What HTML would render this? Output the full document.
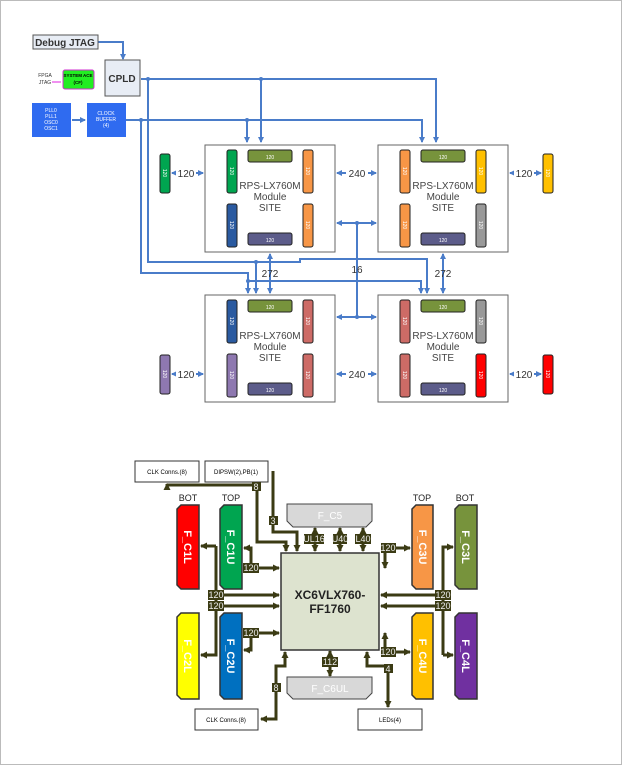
<!DOCTYPE html>
<html><head><meta charset="utf-8"><style>
html,body{margin:0;padding:0;background:#fff}
svg{display:block;font-family:"Liberation Sans",sans-serif}
</style></head><body>
<svg width="622" height="765" viewBox="0 0 622 765">
<defs>
<marker id="ab" markerWidth="6" markerHeight="6" refX="5" refY="3" orient="auto" markerUnits="userSpaceOnUse"><path d="M0,0 L6,3 L0,6 z" fill="#4a7cc9"/></marker>
<marker id="ab2" markerWidth="6" markerHeight="6" refX="1" refY="3" orient="auto" markerUnits="userSpaceOnUse"><path d="M6,0 L0,3 L6,6 z" fill="#4a7cc9"/></marker>
<marker id="ad" markerWidth="7" markerHeight="7" refX="6" refY="3.5" orient="auto" markerUnits="userSpaceOnUse"><path d="M0,0 L7,3.5 L0,7 z" fill="#3b3b14"/></marker>
<marker id="ad2" markerWidth="7" markerHeight="7" refX="1" refY="3.5" orient="auto" markerUnits="userSpaceOnUse"><path d="M7,0 L0,3.5 L7,7 z" fill="#3b3b14"/></marker>
</defs>
<rect x="0.5" y="0.5" width="621" height="764" fill="#fff" stroke="#bbb"/>

<g stroke="#4a7cc9" stroke-width="2" fill="none">
<path d="M98,42 H123 V59" marker-end="url(#ab)"/>
<path d="M141,79 H436 V142" marker-end="url(#ab)"/>
<path d="M261,79 V142" marker-end="url(#ab)"/>
<path d="M126,120 H422 V142" marker-end="url(#ab)"/>
<path d="M247,120 V142" marker-end="url(#ab)"/>
<path d="M72,120 H85" marker-end="url(#ab)"/>
<path d="M148,79 V262 H300 V259 H427 V293" marker-end="url(#ab)"/>
<path d="M256,262 V293" marker-end="url(#ab)"/>
<path d="M141,120 V273 H248 V293" marker-end="url(#ab)"/>
<path d="M248,281 H421 V293" marker-end="url(#ab)"/>
<path d="M270,254 V293" marker-start="url(#ab2)" marker-end="url(#ab)"/>
<path d="M443,254 V293" marker-start="url(#ab2)" marker-end="url(#ab)"/>
<path d="M357,223 V317"/>
<path d="M337,223 H376" marker-start="url(#ab2)" marker-end="url(#ab)"/>
<path d="M337,317 H376" marker-start="url(#ab2)" marker-end="url(#ab)"/>
<path d="M337,173 H376" marker-start="url(#ab2)" marker-end="url(#ab)"/>
<path d="M337,374 H376" marker-start="url(#ab2)" marker-end="url(#ab)"/>
<path d="M172,173 H203" marker-start="url(#ab2)" marker-end="url(#ab)"/>
<path d="M172,374 H203" marker-start="url(#ab2)" marker-end="url(#ab)"/>
<path d="M510,173 H541" marker-start="url(#ab2)" marker-end="url(#ab)"/>
<path d="M510,374 H541" marker-start="url(#ab2)" marker-end="url(#ab)"/>
</g>
<path d="M52,82 H61" stroke="#e020e0" stroke-width="1"/>
<g fill="#4a7cc9"><circle cx="148" cy="79" r="2"/><circle cx="261" cy="79" r="2"/><circle cx="141" cy="120" r="2"/><circle cx="247" cy="120" r="2"/><circle cx="256" cy="262" r="2"/><circle cx="248" cy="281" r="2"/><circle cx="357" cy="223" r="2"/><circle cx="357" cy="317" r="2"/></g>
<g font-size="10" fill="#333" text-anchor="middle">
<rect x="176" y="168" width="20" height="11" fill="#fff"/><text x="186" y="177">120</text>
<rect x="176" y="369" width="20" height="11" fill="#fff"/><text x="186" y="378">120</text>
<rect x="514" y="168" width="20" height="11" fill="#fff"/><text x="524" y="177">120</text>
<rect x="514" y="369" width="20" height="11" fill="#fff"/><text x="524" y="378">120</text>
<rect x="346" y="168" width="22" height="11" fill="#fff"/><text x="357" y="177">240</text>
<rect x="346" y="369" width="22" height="11" fill="#fff"/><text x="357" y="378">240</text>
<text x="270" y="277">272</text><text x="443" y="277">272</text><text x="357" y="273">16</text>
</g>
<rect x="33" y="35" width="65" height="14" fill="#e8edf5" stroke="#555"/>
<text x="65" y="46" font-size="10" font-weight="bold" fill="#333" text-anchor="middle">Debug JTAG</text>
<rect x="105" y="60" width="35" height="36" fill="#e8edf5" stroke="#555"/>
<text x="122" y="82" font-size="10" font-weight="bold" fill="#333" text-anchor="middle">CPLD</text>
<text x="45" y="77" font-size="5" fill="#333" text-anchor="middle">FPGA</text><text x="45" y="84" font-size="5" fill="#333" text-anchor="middle">JTAG</text>
<rect x="63" y="70" width="31" height="19" rx="2" fill="#22ee22" stroke="#d030d0"/>
<text x="78" y="77" font-size="4.5" font-weight="bold" text-anchor="middle">SYSTEM ACE</text><text x="78" y="84" font-size="4.5" font-weight="bold" text-anchor="middle">(CF)</text>
<rect x="32" y="103" width="39" height="34" fill="#2f6bf0"/>
<g font-size="5" fill="#fff" text-anchor="middle"><text x="51" y="112">PLL0</text><text x="51" y="118">PLL1</text><text x="51" y="124">OSC0</text><text x="51" y="130">OSC1</text></g>
<rect x="87" y="103" width="39" height="34" fill="#2f6bf0"/>
<g font-size="5" fill="#fff" text-anchor="middle"><text x="106" y="115">CLOCK</text><text x="106" y="121">BUFFER</text><text x="106" y="127">(4)</text></g>

<g id="m">
<rect x="205" y="145" width="130" height="107" fill="#fff" stroke="#666"/>
<g font-size="10" fill="#444" text-anchor="middle"><text x="270" y="189">RPS-LX760M</text><text x="270" y="200">Module</text><text x="270" y="211">SITE</text></g>
</g>
<use href="#m" x="173"/><use href="#m" y="150"/><use href="#m" x="173" y="150"/>
<g stroke="#222" stroke-width="1">
<rect x="227" y="150" width="10" height="43" rx="2" fill="#00a550"/><rect x="227" y="204" width="10" height="43" rx="2" fill="#2a5aa0"/>
<rect x="303" y="150" width="10" height="43" rx="2" fill="#f79646"/><rect x="303" y="204" width="10" height="43" rx="2" fill="#f79646"/>
<rect x="248" y="150" width="44" height="12" rx="2" fill="#77933c"/><rect x="248" y="233" width="44" height="12" rx="2" fill="#5c5c8a"/>
<rect x="400" y="150" width="10" height="43" rx="2" fill="#f79646"/><rect x="400" y="204" width="10" height="43" rx="2" fill="#f79646"/>
<rect x="476" y="150" width="10" height="43" rx="2" fill="#ffc000"/><rect x="476" y="204" width="10" height="43" rx="2" fill="#999"/>
<rect x="421" y="150" width="44" height="12" rx="2" fill="#77933c"/><rect x="421" y="233" width="44" height="12" rx="2" fill="#5c5c8a"/>
<rect x="227" y="300" width="10" height="43" rx="2" fill="#2a5aa0"/><rect x="227" y="354" width="10" height="43" rx="2" fill="#8e78b0"/>
<rect x="303" y="300" width="10" height="43" rx="2" fill="#cd6b66"/><rect x="303" y="354" width="10" height="43" rx="2" fill="#cd6b66"/>
<rect x="248" y="300" width="44" height="12" rx="2" fill="#77933c"/><rect x="248" y="383" width="44" height="12" rx="2" fill="#5c5c8a"/>
<rect x="400" y="300" width="10" height="43" rx="2" fill="#cd6b66"/><rect x="400" y="354" width="10" height="43" rx="2" fill="#cd6b66"/>
<rect x="476" y="300" width="10" height="43" rx="2" fill="#999"/><rect x="476" y="354" width="10" height="43" rx="2" fill="#ff0000"/>
<rect x="421" y="300" width="44" height="12" rx="2" fill="#77933c"/><rect x="421" y="383" width="44" height="12" rx="2" fill="#5c5c8a"/>
<rect x="160" y="154" width="10" height="39" rx="2" fill="#00a550"/><rect x="160" y="355" width="10" height="39" rx="2" fill="#8e78b0"/>
<rect x="543" y="154" width="10" height="39" rx="2" fill="#ffc000"/><rect x="543" y="355" width="10" height="39" rx="2" fill="#ff0000"/>
</g>
<g font-size="5" fill="#fff" text-anchor="middle">
<text x="270" y="159">120</text><text x="270" y="242">120</text><text x="443" y="159">120</text><text x="443" y="242">120</text>
<text x="270" y="309">120</text><text x="270" y="392">120</text><text x="443" y="309">120</text><text x="443" y="392">120</text>
<text transform="translate(230,171) rotate(90)">120</text><text transform="translate(230,225) rotate(90)">120</text>
<text transform="translate(306,171) rotate(90)">120</text><text transform="translate(306,225) rotate(90)">120</text>
<text transform="translate(403,171) rotate(90)">120</text><text transform="translate(403,225) rotate(90)">120</text>
<text transform="translate(479,171) rotate(90)">120</text><text transform="translate(479,225) rotate(90)">120</text>
<text transform="translate(230,321) rotate(90)">120</text><text transform="translate(230,375) rotate(90)">120</text>
<text transform="translate(306,321) rotate(90)">120</text><text transform="translate(306,375) rotate(90)">120</text>
<text transform="translate(403,321) rotate(90)">120</text><text transform="translate(403,375) rotate(90)">120</text>
<text transform="translate(479,321) rotate(90)">120</text><text transform="translate(479,375) rotate(90)">120</text>
<text transform="translate(163,173) rotate(90)">120</text><text transform="translate(163,374) rotate(90)">120</text>
<text transform="translate(546,173) rotate(90)">120</text><text transform="translate(546,374) rotate(90)">120</text>
</g>

<rect x="135" y="461" width="64" height="21" fill="#fff" stroke="#333"/><text x="167" y="474" font-size="6" text-anchor="middle">CLK Conns.(8)</text>
<rect x="205" y="461" width="63" height="21" fill="#fff" stroke="#333"/><text x="236" y="474" font-size="6" text-anchor="middle">DIPSW(2),PB(1)</text>
<rect x="195" y="709" width="63" height="21" fill="#fff" stroke="#333"/><text x="226" y="722" font-size="6" text-anchor="middle">CLK Conns.(8)</text>
<rect x="358" y="709" width="64" height="21" fill="#fff" stroke="#333"/><text x="390" y="722" font-size="6" text-anchor="middle">LEDs(4)</text>

<g stroke="#3b3b14" stroke-width="3" fill="none">
<path d="M257,485 H167 V484" marker-end="url(#ad)"/>
<path d="M257,485 V542 H286 V551" marker-end="url(#ad)"/>
<path d="M273,471 V532 H297 V551" marker-end="url(#ad)"/>
<path d="M315,528 V551" marker-start="url(#ad2)" marker-end="url(#ad)"/>
<path d="M340,528 V551" marker-start="url(#ad2)" marker-end="url(#ad)"/>
<path d="M363,528 V551" marker-start="url(#ad2)" marker-end="url(#ad)"/>
<path d="M330,651 V676" marker-start="url(#ad2)" marker-end="url(#ad)"/>
<path d="M385,568 V548 H410" marker-start="url(#ad2)" marker-end="url(#ad)"/>
<path d="M443,655 V547 H453" marker-end="url(#ad)"/>
<path d="M443,655 H453" marker-end="url(#ad)"/>
<path d="M443,595 H381" marker-end="url(#ad)"/>
<path d="M443,606 H381" marker-end="url(#ad)"/>
<path d="M385,633 V652 H410" marker-start="url(#ad2)" marker-end="url(#ad)"/>
<path d="M216,546 V655 H201" marker-end="url(#ad)"/>
<path d="M216,546 H201" marker-end="url(#ad)"/>
<path d="M216,595 H279" marker-end="url(#ad)"/>
<path d="M216,606 H279" marker-end="url(#ad)"/>
<path d="M244,548 H251 V568 H279" marker-start="url(#ad2)" marker-end="url(#ad)"/>
<path d="M279,633 H251 V650 H244" marker-start="url(#ad2)" marker-end="url(#ad)"/>
<path d="M285,652 V666 H276 V719 H261" marker-start="url(#ad2)" marker-end="url(#ad)"/>
<path d="M367,652 V666 H388 V707" marker-start="url(#ad2)" marker-end="url(#ad)"/>
</g>

<path d="M287,504 H372 V521 L366,527 H293 L287,521 Z" fill="#d8d8d8" stroke="#444"/>
<text x="330" y="519" font-size="10" fill="#fff" text-anchor="middle">F_C5</text>
<path d="M287,677 H372 V693 L366,699 H293 L287,693 Z" fill="#d8d8d8" stroke="#444"/>
<text x="330" y="692" font-size="10" fill="#fff" text-anchor="middle">F_C6UL</text>
<rect x="281" y="553" width="98" height="97" fill="#dde3cf" stroke="#333" stroke-width="1.5"/>
<text x="330" y="599" font-size="12" font-weight="bold" fill="#222" text-anchor="middle">XC6VLX760-</text>
<text x="330" y="613" font-size="12" font-weight="bold" fill="#222" text-anchor="middle">FF1760</text>

<g stroke="#333" stroke-width="1.5">
<path d="M177,509 L181,505 H199 V589 H181 L177,585 Z" fill="#ff0000"/>
<path d="M220,509 L224,505 H242 V589 H224 L220,585 Z" fill="#00a550"/>
<path d="M412,509 L416,505 H433 V589 H416 L412,585 Z" fill="#f79646"/>
<path d="M455,509 L459,505 H477 V589 H459 L455,585 Z" fill="#77933c"/>
<path d="M177,617 L181,613 H199 V699 H181 L177,695 Z" fill="#ffff00"/>
<path d="M220,617 L224,613 H242 V699 H224 L220,695 Z" fill="#0070c0"/>
<path d="M412,617 L416,613 H433 V699 H416 L412,695 Z" fill="#ffc000"/>
<path d="M455,617 L459,613 H477 V699 H459 L455,695 Z" fill="#7030a0"/>
</g>
<g font-size="11" font-weight="bold" fill="#fff" text-anchor="middle">
<text transform="translate(184,547) rotate(90)">F_C1L</text>
<text transform="translate(227,547) rotate(90)">F_C1U</text>
<text transform="translate(419,547) rotate(90)">F_C3U</text>
<text transform="translate(462,547) rotate(90)">F_C3L</text>
<text transform="translate(184,656) rotate(90)">F_C2L</text>
<text transform="translate(227,656) rotate(90)">F_C2U</text>
<text transform="translate(419,656) rotate(90)">F_C4U</text>
<text transform="translate(462,656) rotate(90)">F_C4L</text>
</g>
<g font-size="9" fill="#222" text-anchor="middle">
<text x="188" y="501">BOT</text><text x="231" y="501">TOP</text><text x="422" y="501">TOP</text><text x="465" y="501">BOT</text>
</g>
<g font-size="9" fill="#eee" text-anchor="middle">
<g fill="#3b3b14"><rect x="252" y="482" width="9" height="9"/><rect x="269" y="516" width="9" height="9"/>
<rect x="304" y="534" width="20" height="10"/><rect x="333" y="534" width="14" height="10"/><rect x="355" y="534" width="16" height="10"/>
<rect x="381" y="543" width="15" height="10"/><rect x="243" y="563" width="16" height="10"/><rect x="243" y="628" width="16" height="10"/>
<rect x="208" y="590" width="16" height="10"/><rect x="208" y="601" width="16" height="10"/>
<rect x="435" y="590" width="16" height="10"/><rect x="435" y="601" width="16" height="10"/>
<rect x="381" y="647" width="15" height="10"/><rect x="322" y="657" width="16" height="10"/>
<rect x="384" y="664" width="9" height="9"/><rect x="272" y="683" width="9" height="9"/></g>
<text x="256" y="490">8</text><text x="273" y="524">3</text>
<text x="314" y="542">UL16</text><text x="340" y="542">U40</text><text x="363" y="542">L40</text>
<text x="388" y="551">120</text><text x="251" y="571">120</text><text x="251" y="636">120</text>
<text x="216" y="598">120</text><text x="216" y="609">120</text><text x="443" y="598">120</text><text x="443" y="609">120</text>
<text x="388" y="655">120</text><text x="330" y="665">112</text><text x="388" y="672">4</text><text x="276" y="691">8</text>
</g>
</svg>
</body></html>
